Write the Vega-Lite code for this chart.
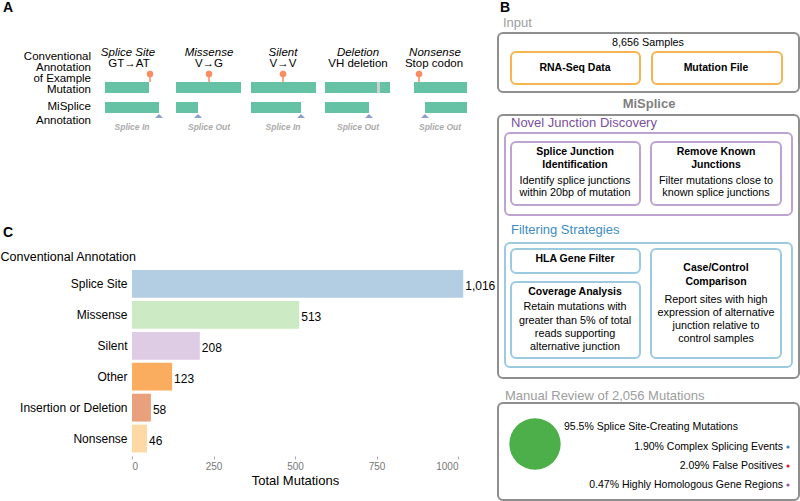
{
  "$schema": "https://vega.github.io/schema/vega-lite/v6.json",
  "width": 800,
  "height": 501,
  "padding": 0,
  "autosize": {"type": "none"},
  "background": "white",
  "config": {"view": {"stroke": null}, "font": "Liberation Sans"},
  "datasets": {
    "seg": [
      {"x": 105, "x2": 149, "y": 82, "y2": 93, "c": "seg"},
      {"x": 176, "x2": 241, "y": 82, "y2": 93, "c": "seg"},
      {"x": 251, "x2": 316, "y": 82, "y2": 93, "c": "seg"},
      {"x": 325, "x2": 390, "y": 82, "y2": 93, "c": "seg"},
      {"x": 414, "x2": 467, "y": 82, "y2": 93, "c": "seg"},
      {"x": 377, "x2": 380, "y": 82, "y2": 93, "c": "gap"},
      {"x": 105, "x2": 159, "y": 102, "y2": 113, "c": "seg"},
      {"x": 176, "x2": 198, "y": 102, "y2": 113, "c": "seg"},
      {"x": 251, "x2": 301, "y": 102, "y2": 113, "c": "seg"},
      {"x": 325, "x2": 369, "y": 102, "y2": 113, "c": "seg"},
      {"x": 425, "x2": 467, "y": 102, "y2": 113, "c": "seg"}
    ],
    "pins": [
      {"x": 150, "y": 74, "y2": 82},
      {"x": 209, "y": 74, "y2": 82},
      {"x": 283, "y": 74, "y2": 82},
      {"x": 419, "y": 74, "y2": 82}
    ],
    "tri": [
      {"x": 159, "y": 118}, {"x": 198, "y": 118}, {"x": 301, "y": 118}, {"x": 369, "y": 118}, {"x": 425, "y": 118}
    ],
    "boxes": [
      {"x": 498, "x2": 799, "y": 33, "y2": 92, "c": "grey"},
      {"x": 511, "x2": 640, "y": 52, "y2": 84, "c": "orange"},
      {"x": 652, "x2": 782, "y": 52, "y2": 84, "c": "orange"},
      {"x": 498, "x2": 799, "y": 115, "y2": 378, "c": "grey"},
      {"x": 505, "x2": 792, "y": 133, "y2": 215, "c": "purple"},
      {"x": 511, "x2": 640, "y": 142, "y2": 205, "c": "purple"},
      {"x": 651, "x2": 781, "y": 142, "y2": 205, "c": "purple"},
      {"x": 505, "x2": 792, "y": 243, "y2": 367, "c": "blue"},
      {"x": 511, "x2": 640, "y": 249, "y2": 273, "c": "blue"},
      {"x": 511, "x2": 640, "y": 282, "y2": 358, "c": "blue"},
      {"x": 651, "x2": 781, "y": 249, "y2": 358, "c": "blue"},
      {"x": 498, "x2": 799, "y": 403, "y2": 500, "c": "grey"}
    ],
    "letters": [
      {"x": 3, "y": 8, "t": "A"}, {"x": 500, "y": 8, "t": "B"}, {"x": 3, "y": 233, "t": "C"}
    ],
    "leftlab": [
      {"x": 91, "y": 57, "t": "Conventional"},
      {"x": 91, "y": 68, "t": "Annotation"},
      {"x": 91, "y": 79, "t": "of Example"},
      {"x": 91, "y": 90, "t": "Mutation"},
      {"x": 91, "y": 107, "t": "MiSplice"},
      {"x": 91, "y": 121, "t": "Annotation"}
    ],
    "ital": [
      {"x": 128, "y": 53, "t": "Splice Site"},
      {"x": 209, "y": 53, "t": "Missense"},
      {"x": 283, "y": 53, "t": "Silent"},
      {"x": 358, "y": 53, "t": "Deletion"},
      {"x": 435, "y": 53, "t": "Nonsense"}
    ],
    "sub": [
      {"x": 129, "y": 64, "t": "GT→AT"},
      {"x": 209, "y": 64, "t": "V→G"},
      {"x": 283, "y": 64, "t": "V→V"},
      {"x": 358, "y": 64, "t": "VH deletion"},
      {"x": 434, "y": 64, "t": "Stop codon"}
    ],
    "splab": [
      {"x": 132, "y": 127, "t": "Splice In"},
      {"x": 209, "y": 127, "t": "Splice Out"},
      {"x": 283, "y": 127, "t": "Splice In"},
      {"x": 358, "y": 127, "t": "Splice Out"},
      {"x": 440, "y": 127, "t": "Splice Out"}
    ],
    "greytitle": [
      {"x": 503, "y": 23, "t": "Input"},
      {"x": 505, "y": 396, "t": "Manual Review of 2,056 Mutations"}
    ],
    "mis": [{"x": 649, "y": 104, "t": "MiSplice"}],
    "purp": [{"x": 511, "y": 123, "t": "Novel Junction Discovery"}],
    "bluet": [{"x": 511, "y": 230, "t": "Filtering Strategies"}],
    "boldc": [
      {"x": 575, "y": 68, "t": "RNA-Seq Data"},
      {"x": 716, "y": 68, "t": "Mutation File"},
      {"x": 575, "y": 152, "t": "Splice Junction"},
      {"x": 575, "y": 165, "t": "Identification"},
      {"x": 716, "y": 152, "t": "Remove Known"},
      {"x": 716, "y": 165, "t": "Junctions"},
      {"x": 575, "y": 259, "t": "HLA Gene Filter"},
      {"x": 575, "y": 292, "t": "Coverage Analysis"},
      {"x": 716, "y": 268, "t": "Case/Control"},
      {"x": 716, "y": 282, "t": "Comparison"}
    ],
    "normc": [
      {"x": 648, "y": 43, "t": "8,656 Samples"},
      {"x": 575, "y": 181, "t": "Identify splice junctions"},
      {"x": 575, "y": 193, "t": "within 20bp of mutation"},
      {"x": 716, "y": 181, "t": "Filter mutations close to"},
      {"x": 716, "y": 193, "t": "known splice junctions"},
      {"x": 575, "y": 307, "t": "Retain mutations with"},
      {"x": 575, "y": 321, "t": "greater than 5% of total"},
      {"x": 575, "y": 334, "t": "reads supporting"},
      {"x": 575, "y": 347, "t": "alternative junction"},
      {"x": 716, "y": 300, "t": "Report sites with high"},
      {"x": 716, "y": 313, "t": "expression of alternative"},
      {"x": 716, "y": 326, "t": "junction relative to"},
      {"x": 716, "y": 339, "t": "control samples"}
    ],
    "manl": [{"x": 564, "y": 427, "t": "95.5% Splice Site-Creating Mutations"}],
    "manr": [
      {"x": 783, "y": 447, "t": "1.90% Complex Splicing Events"},
      {"x": 783, "y": 466, "t": "2.09% False Positives"},
      {"x": 783, "y": 485, "t": "0.47% Highly Homologous Gene Regions"}
    ],
    "dots": [
      {"x": 788, "y": 447, "c": "complex"},
      {"x": 788, "y": 466, "c": "false"},
      {"x": 788, "y": 485, "c": "homolog"}
    ],
    "big": [{"x": 535, "y": 444}],
    "bars": [
      {"cat": "Splice Site", "n": 1016},
      {"cat": "Missense", "n": 513},
      {"cat": "Silent", "n": 208},
      {"cat": "Other", "n": 123},
      {"cat": "Insertion or Deletion", "n": 58},
      {"cat": "Nonsense", "n": 46}
    ]
  },
  "layer": [
    {
      "encoding": {
        "x": {"field": "x", "type": "quantitative", "scale": {"domain": [0, 800], "range": [0, 800], "nice": false, "zero": false}, "axis": null},
        "y": {"field": "y", "type": "quantitative", "scale": {"domain": [0, 501], "range": [0, 501], "nice": false, "zero": false}, "axis": null}
      },
      "layer": [
        {
          "data": {"name": "boxes"},
          "mark": {"type": "rect", "fill": "white", "strokeWidth": 2, "cornerRadius": 5},
          "encoding": {
            "x2": {"field": "x2"},
            "y2": {"field": "y2"},
            "stroke": {"field": "c", "type": "nominal", "legend": null,
              "scale": {"domain": ["grey", "orange", "purple", "blue"], "range": ["#8e8e8e", "#f8b450", "#bea2cf", "#9ccbe1"]}}
          }
        },
        {
          "data": {"name": "seg"},
          "mark": {"type": "rect"},
          "encoding": {
            "x2": {"field": "x2"},
            "y2": {"field": "y2"},
            "fill": {"field": "c", "type": "nominal", "legend": null,
              "scale": {"domain": ["seg", "gap"], "range": ["#66c2a5", "#cfcfcf"]}}
          }
        },
        {
          "data": {"name": "pins"},
          "mark": {"type": "rule", "color": "#fc8d62", "strokeWidth": 1.5},
          "encoding": {"y2": {"field": "y2"}}
        },
        {
          "data": {"name": "pins"},
          "mark": {"type": "point", "filled": true, "color": "#fc8d62", "opacity": 1, "size": 42},
          "encoding": {}
        },
        {
          "data": {"name": "tri"},
          "mark": {"type": "point", "filled": true, "color": "#8da0cb", "opacity": 1, "size": 64, "shape": "M-1,0L0,-1L1,0Z"},
          "encoding": {}
        },
        {
          "data": {"name": "big"},
          "mark": {"type": "point", "filled": true, "color": "#4daf4a", "opacity": 1, "size": 2640},
          "encoding": {}
        },
        {
          "data": {"name": "dots"},
          "mark": {"type": "point", "filled": true, "opacity": 1, "size": 10},
          "encoding": {
            "color": {"field": "c", "type": "nominal", "legend": null,
              "scale": {"domain": ["complex", "false", "homolog"], "range": ["#377eb8", "#e41a1c", "#984ea3"]}}
          }
        },
        {
          "data": {"name": "letters"},
          "mark": {"type": "text", "align": "left", "baseline": "middle", "fontSize": 14, "fontWeight": "bold", "color": "black"},
          "encoding": {"text": {"field": "t"}}
        },
        {
          "data": {"name": "leftlab"},
          "mark": {"type": "text", "align": "right", "baseline": "middle", "fontSize": 11.5, "color": "black"},
          "encoding": {"text": {"field": "t"}}
        },
        {
          "data": {"name": "ital"},
          "mark": {"type": "text", "align": "center", "baseline": "middle", "fontSize": 11.5, "fontStyle": "italic", "color": "black"},
          "encoding": {"text": {"field": "t"}}
        },
        {
          "data": {"name": "sub"},
          "mark": {"type": "text", "align": "center", "baseline": "middle", "fontSize": 11.5, "color": "black"},
          "encoding": {"text": {"field": "t"}}
        },
        {
          "data": {"name": "splab"},
          "mark": {"type": "text", "align": "center", "baseline": "middle", "fontSize": 8.5, "fontStyle": "italic", "fontWeight": "bold", "color": "#ababab"},
          "encoding": {"text": {"field": "t"}}
        },
        {
          "data": {"name": "greytitle"},
          "mark": {"type": "text", "align": "left", "baseline": "middle", "fontSize": 13, "color": "#9d9d9d"},
          "encoding": {"text": {"field": "t"}}
        },
        {
          "data": {"name": "mis"},
          "mark": {"type": "text", "align": "center", "baseline": "middle", "fontSize": 13, "fontWeight": "bold", "color": "#7f7f7f"},
          "encoding": {"text": {"field": "t"}}
        },
        {
          "data": {"name": "purp"},
          "mark": {"type": "text", "align": "left", "baseline": "middle", "fontSize": 13, "color": "#7a4f9e"},
          "encoding": {"text": {"field": "t"}}
        },
        {
          "data": {"name": "bluet"},
          "mark": {"type": "text", "align": "left", "baseline": "middle", "fontSize": 13, "color": "#3d8cc4"},
          "encoding": {"text": {"field": "t"}}
        },
        {
          "data": {"name": "boldc"},
          "mark": {"type": "text", "align": "center", "baseline": "middle", "fontSize": 10.5, "fontWeight": "bold", "color": "black"},
          "encoding": {"text": {"field": "t"}}
        },
        {
          "data": {"name": "normc"},
          "mark": {"type": "text", "align": "center", "baseline": "middle", "fontSize": 10.8, "color": "black"},
          "encoding": {"text": {"field": "t"}}
        },
        {
          "data": {"name": "manl"},
          "mark": {"type": "text", "align": "left", "baseline": "middle", "fontSize": 10.5, "color": "black"},
          "encoding": {"text": {"field": "t"}}
        },
        {
          "data": {"name": "manr"},
          "mark": {"type": "text", "align": "right", "baseline": "middle", "fontSize": 10.5, "color": "black"},
          "encoding": {"text": {"field": "t"}}
        }
      ]
    },
    {
      "data": {"name": "bars"},
      "encoding": {
        "y": {"field": "cat", "type": "nominal", "sort": null,
          "scale": {"range": [268.5, 454], "paddingInner": 0.1, "paddingOuter": 0.05},
          "axis": {"orient": "left", "offset": -130, "ticks": false, "domain": false, "labelPadding": 3,
            "labelFontSize": 12, "labelColor": "black", "labelFont": "Liberation Sans",
            "title": "Conventional Annotation", "titleAngle": 0, "titleAlign": "left", "titleBaseline": "middle",
            "titleX": -130, "titleY": 256, "titleFontSize": 12.5, "titleFontWeight": "normal", "titleColor": "black", "titleFont": "Liberation Sans"}},
        "x": {"field": "n", "type": "quantitative",
          "scale": {"domain": [0, 1000], "range": [132, 458], "nice": false, "zero": true},
          "axis": {"orient": "bottom", "offset": -45, "values": [0, 250, 500, 750, 1000], "format": "d", "domain": false, "grid": false,
            "tickSize": 3, "tickColor": "#aaaaaa", "labelPadding": 2, "labelFontSize": 10, "labelColor": "#777777", "labelFont": "Liberation Sans",
            "title": "Total Mutations", "titleFontSize": 13, "titleFontWeight": "normal", "titleColor": "black", "titlePadding": 3, "titleFont": "Liberation Sans"}}
      },
      "layer": [
        {
          "mark": {"type": "bar"},
          "encoding": {
            "color": {"field": "cat", "type": "nominal", "legend": null,
              "scale": {"domain": ["Splice Site", "Missense", "Silent", "Other", "Insertion or Deletion", "Nonsense"],
                "range": ["#b3cde3", "#ccebc5", "#decbe4", "#fbad5f", "#e8a17c", "#fed9a6"]}}
          }
        },
        {
          "mark": {"type": "text", "align": "left", "baseline": "middle", "dx": 2, "dy": 2, "fontSize": 12, "color": "black"},
          "encoding": {"text": {"field": "n", "type": "quantitative", "format": ","}}
        }
      ]
    }
  ],
  "resolve": {"scale": {"x": "independent", "y": "independent", "color": "independent"}}
}
